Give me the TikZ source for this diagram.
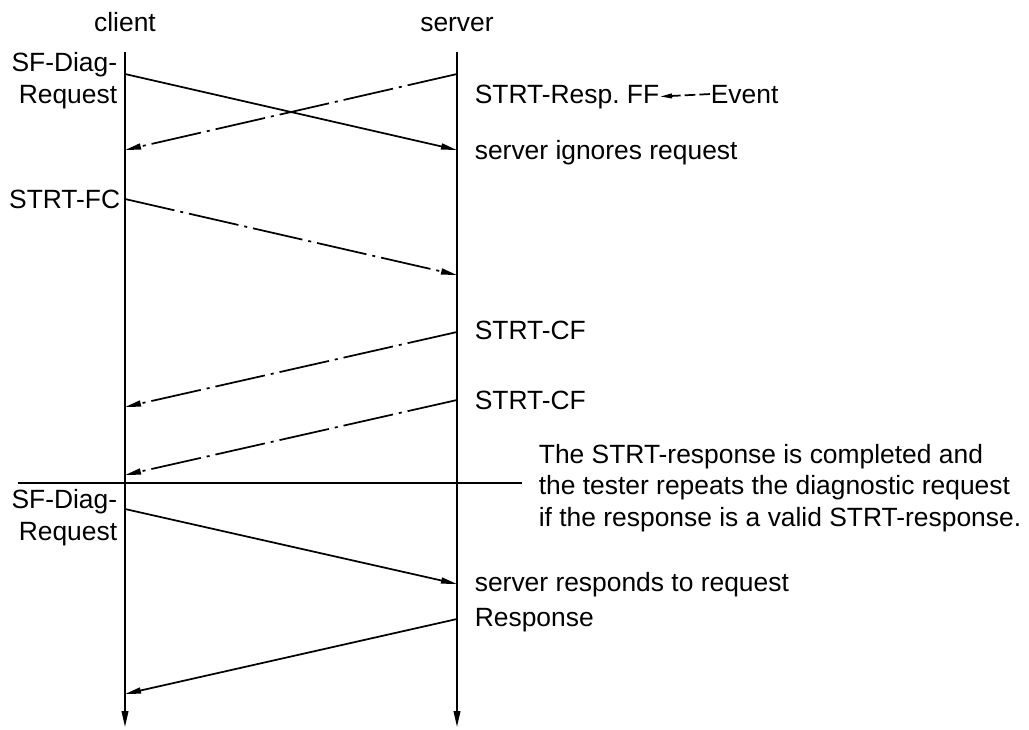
\documentclass[tikz,border=0pt]{standalone}
\usepackage{fontspec}
\setmainfont{Liberation Sans}
\usetikzlibrary{arrows.meta}
\begin{document}
\begin{tikzpicture}[x=0.75pt,y=-0.75pt, line width=1.3pt,
  every node/.style={font=\fontsize{19.8pt}{23.5pt}\selectfont, inner sep=0pt},
  msg/.style={-{Triangle[length=12pt,width=4.5pt]}},
  dashdot/.style={msg, dash pattern=on 38pt off 4.5pt on 2.25pt off 4.5pt},
  evarrow/.style={-{Triangle[length=9pt,width=3.5pt]}, dash pattern=on 8pt off 3pt},
  life/.style={-{Triangle[length=12pt,width=5pt]}},
  lbl/.style={anchor=base west},
  lblr/.style={anchor=base east, align=right}]
\useasboundingbox (0,0) rectangle (1029,729);
% lifelines
\coordinate (ctop) at (125,52);
\coordinate (cbot) at (125,727);
\coordinate (stop) at (457,52);
\coordinate (sbot) at (457,727);
\draw[life] (ctop) -- (cbot);
\draw[life] (stop) -- (sbot);
\node[anchor=base] (client) at (125,31) {client};
\node[anchor=base] (server) at (457,31) {server};
% message points
\coordinate (c1) at (125,74);  \coordinate (s1) at (457,150);
\coordinate (s2) at (457,74);  \coordinate (c2) at (125,150);
\coordinate (c3) at (125,199); \coordinate (s3) at (457,275);
\coordinate (s4) at (457,332); \coordinate (c4) at (125,407);
\coordinate (s5) at (457,400); \coordinate (c5) at (125,475);
\coordinate (c6) at (125,509); \coordinate (s6) at (457,584);
\coordinate (s7) at (457,619); \coordinate (c7) at (125,694);
\draw[msg] (c1) -- (s1);
\draw[dashdot] (s2) -- (c2);
\draw[dashdot] (c3) -- (s3);
\draw[dashdot] (s4) -- (c4);
\draw[dashdot] (s5) -- (c5);
\draw[msg] (c6) -- (s6);
\draw[msg] (s7) -- (c7);
% separator
\coordinate (sepL) at (18,483);
\coordinate (sepR) at (522,483);
\draw (sepL) -- (sepR);
% labels
\node[lblr] (req1) at (118,103) {SF-Diag-\\Request};
\node[lbl] (ff) at (474,103) {STRT-Resp.\ FF};
\node[lbl] (event) at (710,103) {Event};
\draw[evarrow] (event.west) -- (ff.east);
\node[lbl] (ign) at (474,159) {server ignores request};
\node[lblr] (fc) at (121,208) {STRT-FC};
\node[lbl] (cf1) at (474,339) {STRT-CF};
\node[lbl] (cf2) at (474,409) {STRT-CF};
\node[anchor=base west, align=left] (note) at (538,526) {The STRT-response is completed and\\the tester repeats the diagnostic request\\if the response is a valid STRT-response.};
\node[lblr] (req2) at (118,540) {SF-Diag-\\Request};
\node[lbl] (resp1) at (474,591) {server responds to request};
\node[lbl] (resp2) at (474,626) {Response};
\end{tikzpicture}
\end{document}
